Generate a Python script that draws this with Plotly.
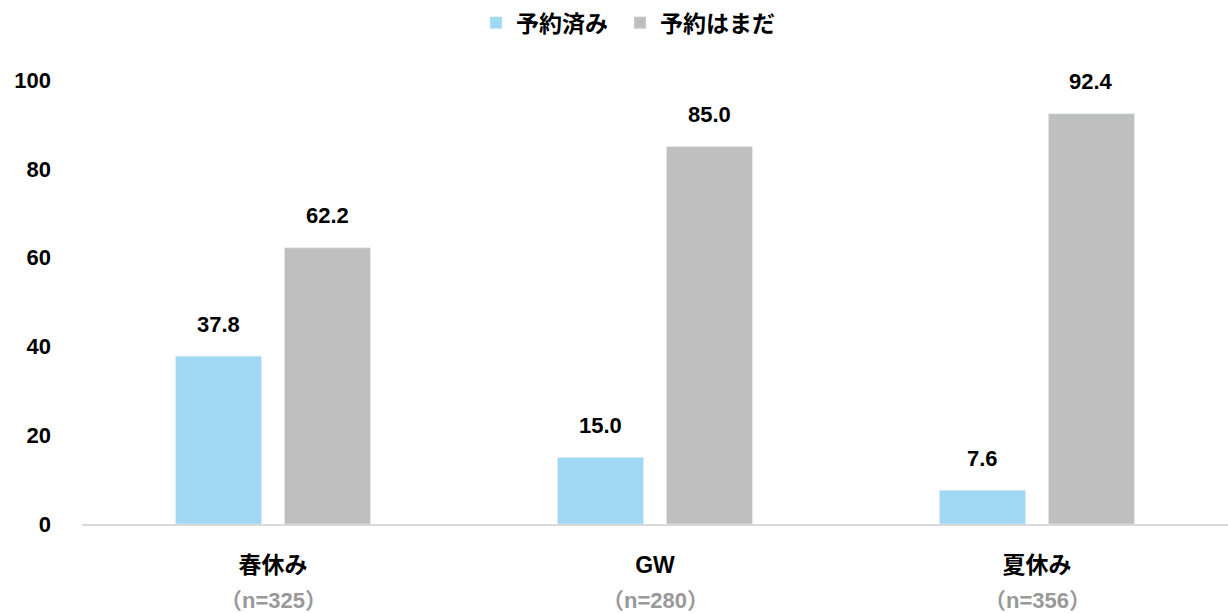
import plotly.graph_objects as go

categories = ["春休み", "GW", "夏休み"]
sample_sizes = ["（n=325）", "（n=280）", "（n=356）"]
booked = [37.8, 15.0, 7.6]
not_yet = [62.2, 85.0, 92.4]
series_names = ["予約済み", "予約はまだ"]
y_ticks = [0, 20, 40, 60, 80, 100]

FONT = "Liberation Sans, Arial, Noto Sans CJK JP, sans-serif"
BLUE = "#A1D8F4"
GRAY = "#BFBFBF"
FS = 22
FS_JP = 23

BARGAP = 0.43
BARGROUPGAP = 0.21
W, H = 1228, 613
ML, MR, MT, MB = 82, 0, 80, 89
cat_px = (W - ML - MR) / len(categories)
slot_px = cat_px * (1 - BARGAP) / 2

fig = go.Figure()
for name, vals, col, lg in [(series_names[0], booked, BLUE, "legend"),
                            (series_names[1], not_yet, GRAY, "legend2")]:
    fig.add_trace(go.Bar(x=categories, y=vals, name=f"<b>{name}</b>",
                         marker_color=col, cliponaxis=False, legend=lg))

annotations = []
for k, vals in enumerate([booked, not_yet]):
    shift = (k - 0.5) * slot_px
    for c, v in zip(categories, vals):
        annotations.append(dict(x=c, y=v, xref="x", yref="y", text=f"<b>{v:.1f}</b>",
                                showarrow=False, xshift=shift, yshift=32, yanchor="middle",
                                font=dict(size=FS, color="#000000", family=FONT)))
for c, n in zip(categories, sample_sizes):
    annotations.append(dict(x=c, y=0, xref="x", yref="paper", text=f"<b>{n}</b>",
                            showarrow=False, yshift=-76, yanchor="middle",
                            font=dict(size=FS, color="#999999", family=FONT)))

legend_common = dict(orientation="h", xanchor="left", y=0.998, yanchor="top",
                     yref="container", font=dict(size=FS_JP, family=FONT), itemwidth=30)

fig.update_layout(
    width=W, height=H,
    margin=dict(l=ML, r=MR, t=MT, b=MB),
    paper_bgcolor="white", plot_bgcolor="white",
    barmode="group", bargap=BARGAP, bargroupgap=BARGROUPGAP,
    font=dict(family=FONT, size=FS, color="#000000"),
    showlegend=True,
    legend=dict(x=(476 - ML) / (W - ML - MR), **legend_common),
    legend2=dict(x=(620 - ML) / (W - ML - MR), **legend_common),
    annotations=annotations,
    xaxis=dict(tickmode="array", tickvals=categories,
               ticktext=[f"<b>{c}</b>" for c in categories],
               showline=True, linecolor="#D9D9D9", linewidth=1.5, ticks="",
               ticklabelstandoff=20, tickfont=dict(size=FS_JP, family=FONT)),
    yaxis=dict(range=[0, 100], tickmode="array", tickvals=y_ticks,
               ticktext=[f"<b>{t}</b>" for t in y_ticks],
               showgrid=False, zeroline=False, showline=False,
               tickfont=dict(size=FS, family=FONT), ticklabelstandoff=30),
)

fig.write_html("out.html")
